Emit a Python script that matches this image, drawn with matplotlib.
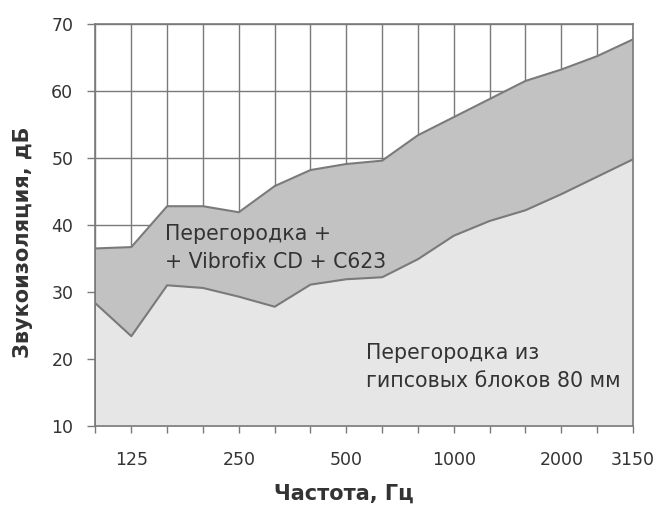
import numpy as np
import matplotlib.pyplot as plt

# third-octave bands, Hz
freqs = [100, 125, 160, 200, 250, 315, 400, 500, 630, 800,
         1000, 1250, 1600, 2000, 2500, 3150]
# partition with Vibrofix CD + C623
upper = [36.5, 36.7, 42.8, 42.8, 41.9, 45.8, 48.2, 49.1, 49.6, 53.4,
         56.1, 58.8, 61.5, 63.2, 65.2, 67.7]
# gypsum block partition 80 mm
lower = [28.3, 23.4, 31.0, 30.6, 29.3, 27.8, 31.1, 31.9, 32.2, 34.9,
         38.4, 40.6, 42.2, 44.6, 47.2, 49.8]
tick_labels = ['125', '250', '500', '1000', '2000', '3150']

plt.rcParams['font.family'] = ['DejaVu Sans']
fig = plt.figure(figsize=(6.58, 5.07), dpi=100)
ax = fig.add_axes([0.1451, 0.1598, 0.8169, 0.7929])

x = np.arange(len(freqs))
grey = '#7a7a7a'
txt = '#333333'
ax.fill_between(x, 10, upper, color='#c2c2c2', zorder=2, lw=0)
ax.fill_between(x, 10, lower, color='#e6e6e6', zorder=3, lw=0)
ax.plot(x, upper, color=grey, lw=1.5, zorder=4)
ax.plot(x, lower, color=grey, lw=1.5, zorder=4)

ax.set_xlim(0, len(freqs) - 1)
ax.set_ylim(10, 70)
ax.set_xticks(x)
lab = [str(f) if str(f) in tick_labels else '' for f in freqs]
ax.set_xticklabels(lab, fontsize=12.5, color=txt)
ax.set_yticks(range(10, 71, 10))
ax.tick_params(axis='y', labelsize=12.5, labelcolor=txt, color=grey,
               length=6, width=1, pad=10)
ax.tick_params(axis='x', color=grey, length=5, width=1, pad=13)
ax.grid(True, color=grey, lw=1, zorder=1)
ax.set_axisbelow(True)
for s in ax.spines.values():
    s.set_color(grey)
    s.set_linewidth(1.2)
    s.set_zorder(5)

fig.text(344 / 658, 1 - 494 / 507, 'Частота, Гц', fontsize=15, fontweight='bold',
         color=txt, ha='center', va='center')
fig.text(23 / 658, 1 - 242 / 507, 'Звукоизоляция, дБ', fontsize=15, fontweight='bold',
         color=txt, ha='center', va='center', rotation=90)

ann1 = ['Перегородка +', '+ Vibrofix CD + C623']
ann2 = ['Перегородка из', 'гипсовых блоков 80 мм']
for line, yy in zip(ann1, [37.7, 33.6]):
    ax.text(1.94, yy, line, fontsize=14.8, color=txt, va='baseline', zorder=6)
for line, yy in zip(ann2, [20.0, 15.8]):
    ax.text(7.55, yy, line, fontsize=14.8, color=txt, va='baseline', zorder=6)

fig.savefig('out.png', dpi=100)
